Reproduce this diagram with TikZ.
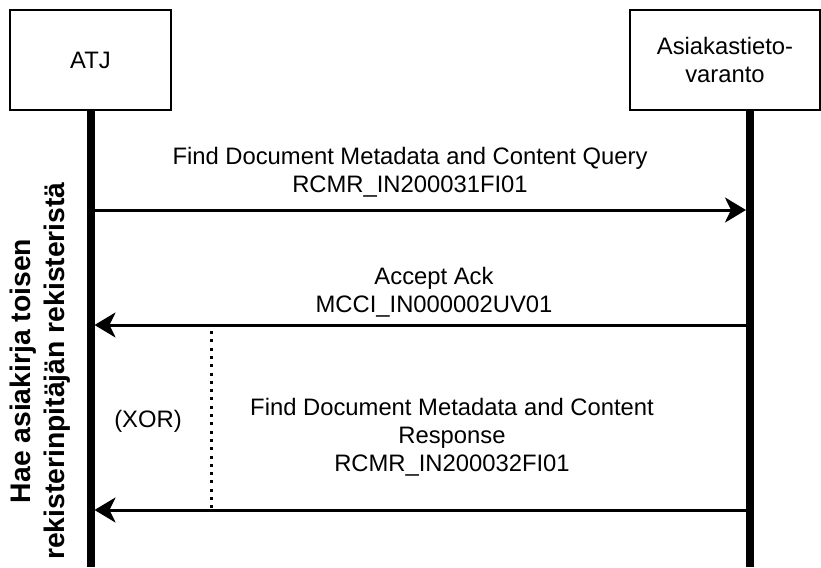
\documentclass[tikz,border=0pt]{standalone}
\usepackage{fontspec}
\setmainfont{Liberation Sans}
\usetikzlibrary{arrows.meta}
\begin{document}
\begin{tikzpicture}[x=1pt,y=-1pt,
  lbl/.style={font=\fontsize{23.8}{28}\selectfont, align=center, inner sep=0pt},
  actor/.style={draw, line width=2pt, inner sep=0pt, minimum height=100pt, lbl},
  lifeline/.style={line width=8pt},
  msg/.style={line width=3pt, -{Stealth[length=21pt,width=25pt,inset=6pt]}, shorten >=4pt},
  xorline/.style={line width=3pt, dash pattern=on 3pt off 5.3pt},
  side/.style={font=\fontsize{28.3}{34}\selectfont\bfseries, align=center, inner sep=0pt, rotate=90},
]
\useasboundingbox (0,0) rectangle (821,567);

% participants
\node[actor, minimum width=161pt] (atj) at (90.5,60) {ATJ};
\node[actor, minimum width=190pt] (asv) at (725,60) {Asiakastieto-\\varanto};

% lifeline end points and message anchors
\coordinate (atjtop) at (90.5,110);
\coordinate (atjbot) at (90.5,567);
\coordinate (asvtop) at (750,110);
\coordinate (asvbot) at (750,567);
\coordinate (a1) at (90.5,210);  \coordinate (b1) at (750,210);
\coordinate (a2) at (90.5,325);  \coordinate (b2) at (750,325);
\coordinate (a3) at (90.5,510);  \coordinate (b3) at (750,510);
\coordinate (xa) at (211,331);   \coordinate (xb) at (211,510);

% messages
\draw[msg] (a1) -- (b1);
\draw[msg] (b2) -- (a2);
\draw[msg] (b3) -- (a3);

% lifelines
\draw[lifeline] (atjtop) -- (atjbot);
\draw[lifeline] (asvtop) -- (asvbot);

% alternative marker
\draw[xorline] (xa) -- (xb);

% message labels
\node[lbl] (m1) at (410,172.5) {Find Document Metadata and Content Query\\RCMR\_IN200031FI01};
\node[lbl] (m2) at (434,292.5) {Accept Ack\\MCCI\_IN000002UV01};
\node[lbl] (m3) at (452,437) {Find Document Metadata and Content\\Response\\RCMR\_IN200032FI01};
\node[lbl] (xor) at (148,421) {(XOR)};

% side title
\node[side] (title) at (40,371) {Hae asiakirja toisen\\rekisterinpitäjän rekisteristä};
\end{tikzpicture}
\end{document}
